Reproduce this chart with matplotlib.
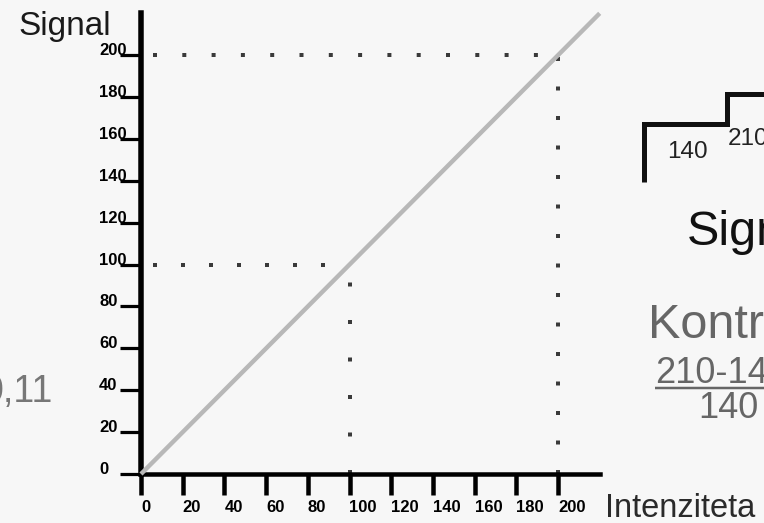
import matplotlib
matplotlib.use("Agg")
import matplotlib.pyplot as plt
from matplotlib.lines import Line2D

# ---- data ----
x_ticks = [0, 20, 40, 60, 80, 100, 120, 140, 160, 180, 200]
y_ticks = [0, 20, 40, 60, 80, 100, 120, 140, 160, 180, 200]
line_x = [0, 220]
line_y = [0, 220]
guide_values = [100, 200]
axis_max = 220

W, H = 764, 523
DPI = 100
PX = 72.0 / DPI  # points per pixel

plt.rcParams['lines.scale_dashes'] = False
plt.rcParams['font.family'] = ['Liberation Sans', 'DejaVu Sans']

bg = '#f7f7f7'
fig = plt.figure(figsize=(W / DPI, H / DPI), dpi=DPI, facecolor=bg)

# axes geometry in pixels
x0_px, y0_px = 141, 474
sx, sy = 2.085, 2.094
ax = fig.add_axes([x0_px / W, (H - y0_px) / H,
                   axis_max * sx / W, axis_max * sy / H])
ax.set_facecolor('none')
ax.set_xlim(0, axis_max)
ax.set_ylim(0, axis_max)
for s in ['top', 'right']:
    ax.spines[s].set_visible(False)
ax.spines['left'].set_linewidth(5.5 * PX)
ax.spines['bottom'].set_linewidth(4.5 * PX)
ax.spines['left'].set_color('#000000')
ax.spines['bottom'].set_color('#000000')

ax.set_xticks(x_ticks)
ax.set_yticks(y_ticks)
ax.set_xticklabels([str(v) for v in x_ticks])
ax.set_yticklabels([str(v) for v in y_ticks])
ax.tick_params(axis='x', direction='out', length=21 * PX, width=4.5 * PX,
               pad=5 * PX, labelsize=12, colors='#000000')
ax.tick_params(axis='y', direction='out', length=21 * PX, width=3.2 * PX,
               pad=21 * PX, labelsize=12, colors='#000000')
for lab in ax.get_xticklabels():
    lab.set_ha('left')
    lab.set_fontweight('bold')
for lab in ax.get_yticklabels():
    lab.set_ha('left')
    lab.set_va('baseline')
    lab.set_fontweight('bold')

# diagonal line
ax.plot(line_x, line_y, color='#b8b8b8', lw=4.4 * PX, solid_capstyle='butt',
        clip_on=False, zorder=3)

# dotted guides
dot = 4 * PX
dot_col = '#3a3a3a'
start_x = (153 - x0_px) / sx
lo, hi = guide_values
# y = 100 guide
ax.plot([start_x, lo], [lo, lo], color=dot_col, lw=4 * PX,
        linestyle=(0, (dot, 28 * PX - dot)), dash_capstyle='butt', zorder=2)
ax.plot([lo, lo], [0, lo], color=dot_col, lw=4 * PX,
        linestyle=(0, (dot, 37.5 * PX - dot)), dash_capstyle='butt', zorder=2)
# y = 200 guide
ax.plot([start_x, hi], [hi, hi], color=dot_col, lw=4 * PX,
        linestyle=(0, (dot, 29.3 * PX - dot)), dash_capstyle='butt', zorder=2)
ax.plot([hi, hi], [0, hi], color=dot_col, lw=4 * PX,
        linestyle=(0, (dot, 29.5 * PX - dot)), dash_capstyle='butt', zorder=2)


def fx(px):
    return px / W


def fy(py):
    return (H - py) / H


# axis captions
fig.text(fx(18), fy(35), 'Signal', fontsize=24, color='#1a1a1a',
         ha='left', va='baseline')
fig.text(fx(605), fy(517), 'Intenziteta', fontsize=23.5, color='#2a2a2a',
         ha='left', va='baseline')

# left partial text
fig.text(fx(53), fy(402), '0,11', fontsize=27, color='#777777',
         ha='right', va='baseline')

# right side: step illustration
step = Line2D([fx(644), fx(644), fx(727), fx(727), fx(770)],
              [fy(182), fy(124), fy(124), fy(94), fy(94)],
              transform=fig.transFigure, color='#111111', lw=5 * PX,
              solid_joinstyle='miter', solid_capstyle='butt')
fig.add_artist(step)
fig.text(fx(667), fy(158), '140', fontsize=17.5, color='#222222',
         ha='left', va='baseline')
fig.text(fx(728), fy(145), '210', fontsize=17.5, color='#222222',
         ha='left', va='baseline')

fig.text(fx(687), fy(245), 'Signal', fontsize=35, color='#111111',
         ha='left', va='baseline')
fig.text(fx(648), fy(338), 'Kontrast', fontsize=35, color='#666666',
         ha='left', va='baseline')
fig.text(fx(655), fy(383), '210-140', fontsize=26, color='#666666',
         ha='left', va='baseline')
bar = Line2D([fx(655), fx(770)], [fy(388), fy(388)], transform=fig.transFigure,
             color='#666666', lw=2.5 * PX, solid_capstyle='butt')
fig.add_artist(bar)
fig.text(fx(698), fy(418), '140', fontsize=26, color='#666666',
         ha='left', va='baseline')

fig.savefig('out.png', dpi=DPI, facecolor=bg)
